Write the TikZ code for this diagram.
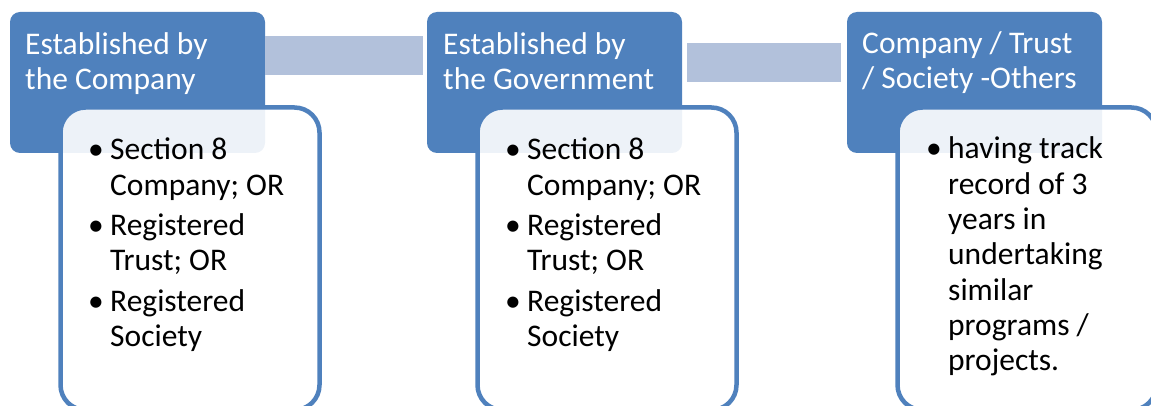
\documentclass[tikz,border=0pt]{standalone}
\usepackage{fontspec}
\setmainfont{Carlito}
\usetikzlibrary{calc}

\definecolor{headblue}{RGB}{79,129,189}
\definecolor{barblue}{RGB}{178,193,219}

\tikzset{
  headbox/.style={fill=headblue, draw=none, rounded corners=10pt,
    minimum width=255pt, minimum height=141pt, inner sep=0pt, outer sep=0pt,
    anchor=north west},
  headtext/.style={anchor=base west, inner sep=0pt, text=white},
  bodybox/.style={fill=white, fill opacity=0.9, draw=headblue, draw opacity=1,
    line width=4.5pt, rounded corners=25pt, minimum width=259pt,
    minimum height=302.5pt, inner sep=0pt, outer sep=0pt, anchor=north west},
  bodytext/.style={anchor=base west, inner sep=0pt, text=black},
  linkbar/.style={fill=barblue, draw=none}
}

% title block: first line sits on the node's base
\newcommand{\titleblock}[1]{\parbox[t]{240pt}{\fontsize{31.5}{35}\selectfont\raggedright #1}}
% bullet list block with hanging indents
\newcommand{\listblock}[2]{\parbox[t]{230pt}{\fontsize{31.5}{35.3}\selectfont
  \raggedright\parskip=#1\relax #2}}
\newcommand{\bitem}[1]{\hangindent=22pt\hangafter=1\noindent\makebox[22pt][l]{•}#1\par}

\begin{document}
\begin{tikzpicture}[x=1pt, y=-1pt]
  \useasboundingbox (0,0) rectangle (1151,406);

  % header boxes
  \node[headbox] (h1) at (10,12) {};
  \node[headbox] (h2) at (427,12) {};
  \node[headbox] (h3) at (847,12) {};

  % bars linking the headers
  \fill[linkbar] ($(h1.north east)+(0,24)$) rectangle ($(h2.north west)+(-4,63)$);
  \fill[linkbar] ($(h2.north east)+(5,31)$) rectangle ($(h3.north west)+(-6,70)$);

  % header titles
  \node[headtext] (t1) at ($(h1.north west)+(15,42.5)$) {\titleblock{Established by\\the Company}};
  \node[headtext] (t2) at ($(h2.north west)+(16,42.5)$) {\titleblock{Established by\\the Government}};
  \node[headtext] (t3) at ($(h3.north west)+(15,41.5)$) {\titleblock{Company / Trust\\/ Society -Others}};

  % detail boxes overlapping the headers
  \node[bodybox] (b1) at ($(h1.north west)+(50.5,95.5)$) {};
  \node[bodybox] (b2) at ($(h2.north west)+(50.5,95.5)$) {};
  \node[bodybox] (b3) at ($(h3.north west)+(50.5,95.5)$) {};

  % detail texts
  \node[bodytext] (l1) at ($(h1.north west)+(78,148)$) {\listblock{5pt}{%
    \bitem{Section 8\newline Company; OR}\bitem{Registered\newline Trust; OR}\bitem{Registered\newline Society}}};
  \node[bodytext] (l2) at ($(h2.north west)+(78,148)$) {\listblock{5pt}{%
    \bitem{Section 8\newline Company; OR}\bitem{Registered\newline Trust; OR}\bitem{Registered\newline Society}}};
  \node[bodytext] (l3) at ($(h3.north west)+(79,147)$) {\listblock{0pt}{%
    \bitem{having track\newline record of 3\newline years in\newline undertaking\newline similar\newline programs /\newline projects.}}};
\end{tikzpicture}
\end{document}
